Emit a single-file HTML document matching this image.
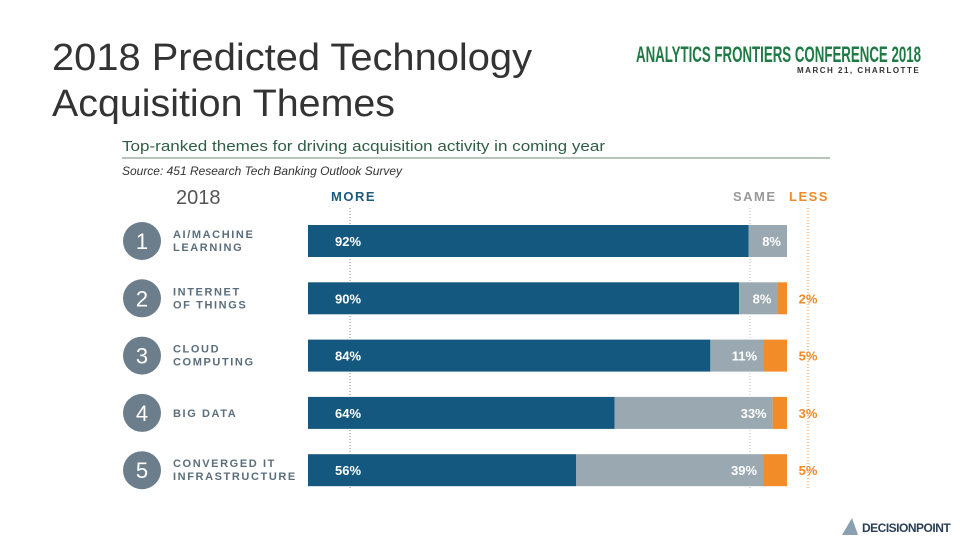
<!DOCTYPE html>
<html><head><meta charset="utf-8"><style>
body{margin:0;width:960px;height:540px;background:#fff;overflow:hidden;font-family:"Liberation Sans",sans-serif}
svg{position:absolute;left:0;top:0}
</style></head><body>
<svg width="960" height="540">
<text x="52" y="70" font-size="38" fill="#333" textLength="480" lengthAdjust="spacingAndGlyphs">2018 Predicted Technology</text>
<text x="52" y="116" font-size="38" fill="#333" textLength="343" lengthAdjust="spacingAndGlyphs">Acquisition Themes</text>
<text x="636" y="62" font-size="22" fill="#1f7a45" font-weight="bold" textLength="285" lengthAdjust="spacingAndGlyphs">ANALYTICS FRONTIERS CONFERENCE 2018</text>
<text x="797" y="73" font-size="8" fill="#333" font-weight="bold" letter-spacing="1.5">MARCH 21, CHARLOTTE</text>
<text x="122" y="151" font-size="15" fill="#2f5e45" textLength="483" lengthAdjust="spacingAndGlyphs">Top-ranked themes for driving acquisition activity in coming year</text>
<line x1="122" y1="158" x2="830" y2="158" stroke="#6f8a7a" stroke-width="1"/>
<text x="122" y="175" font-size="12" fill="#333" font-style="italic" textLength="280" lengthAdjust="spacingAndGlyphs">Source: 451 Research Tech Banking Outlook Survey</text>
<text x="176" y="204" font-size="20" fill="#555">2018</text>
<text x="331" y="201" font-size="13" fill="#1d5a7e" font-weight="bold" letter-spacing="1.5">MORE</text>
<text x="733" y="201" font-size="13" fill="#999" font-weight="bold" letter-spacing="1.5">SAME</text>
<text x="789" y="201" font-size="13" fill="#f08a24" font-weight="bold" letter-spacing="1.5">LESS</text>
<g id="rows"></g>
<g>
<path d="M842 535 L852 518 L858 535 Z" fill="#8aa0b0"/>
<text x="862" y="532" font-size="12" fill="#2a3e55" font-weight="bold" letter-spacing="-0.5">DECISION<tspan font-weight="900">POINT</tspan></text>
</g>
</svg>
<script>
const themes1=["AI/MACHINE","INTERNET","CLOUD","BIG DATA","CONVERGED IT"];
const themes2=["LEARNING","OF THINGS","COMPUTING","","INFRASTRUCTURE"];
const more=[92,90,84,64,56];
const same=[8,8,11,33,39];
const less=[0,2,5,3,5];
const x0=308,sc=4.79,yTop=225,step=57.3,bh=32;
const X=v=>x0+v*sc;
const g=document.getElementById('rows');
const NS="http://www.w3.org/2000/svg";
function mk(t,a,txt){const e=document.createElementNS(NS,t);for(const k in a)e.setAttribute(k,a[k]);if(txt!==undefined)e.textContent=txt;g.appendChild(e);return e;}
[[350,'#888'],[750,'#bbb'],[808,'#f08a24']].forEach(([x,c])=>{
const l=mk('line',{x1:x,y1:208,x2:x,y2:490,stroke:c,'stroke-width':1,'stroke-dasharray':'1 2'});


});
for(let i=0;i<more.length;i++){
const y=yTop+i*step,cy=y+bh/2;
const c=mk('circle',{cx:142,cy:cy,r:19,fill:'#6c7e8b'});


const n=mk('text',{x:142,y:cy+8,'font-size':22,fill:'#fff','text-anchor':'middle'},String(i+1));


const l1=mk('text',{x:173,y:themes2[i]?cy-3:cy+4,'font-size':11,fill:'#5a6e7c','font-weight':'bold','letter-spacing':'1.6'},themes1[i]);


if(themes2[i]){const l2=mk('text',{x:173,y:cy+10,'font-size':11,fill:'#5a6e7c','font-weight':'bold','letter-spacing':'1.6'},themes2[i]);

}
const b1=mk('rect',{x:X(0),y:y,width:X(more[i])-X(0),height:bh,fill:'#15587f'});


const b2=mk('rect',{x:X(more[i]),y:y,width:X(more[i]+same[i])-X(more[i]),height:bh,fill:'#9aa8b1'});


const t1=mk('text',{x:X(0)+27,y:cy+5,'font-size':13,fill:'#fff','font-weight':'bold'},more[i]+'%');


const t2=mk('text',{x:X(more[i]+same[i])-6,y:cy+5,'font-size':13,fill:'#fff','font-weight':'bold','text-anchor':'end'},same[i]+'%');


if(less[i]>0){
const b3=mk('rect',{x:X(more[i]+same[i]),y:y,width:X(more[i]+same[i]+less[i])-X(more[i]+same[i]),height:bh,fill:'#f28c28'});


const t3=mk('text',{x:808,y:cy+5,'font-size':13,fill:'#f08a24','font-weight':'bold','text-anchor':'middle'},less[i]+'%');


}
}
</script>
</body></html>
